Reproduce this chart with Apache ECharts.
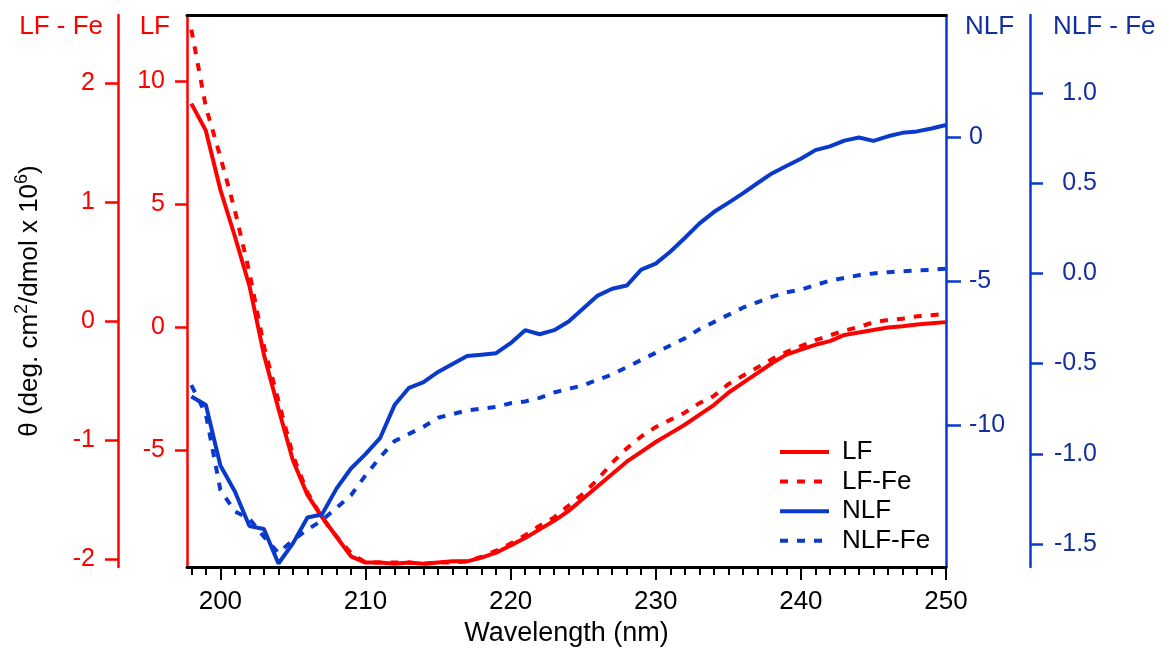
<!DOCTYPE html>
<html>
<head>
<meta charset="utf-8">
<script src="https://cdn.jsdelivr.net/npm/echarts@6/dist/echarts.min.js"></script>
<style>
  html, body { margin: 0; padding: 0; background: #fff; }
  #chart { width: 1162px; height: 650px; }
</style>
</head>
<body>
<div id="chart"></div>
<script>
// wavelength (nm), one point per nm
const wavelength = [198, 199, 200, 201, 202, 203, 204, 205, 206, 207, 208, 209,
  210, 211, 212, 213, 214, 215, 216, 217, 218, 219,
  220, 221, 222, 223, 224, 225, 226, 227, 228, 229,
  230, 231, 232, 233, 234, 235, 236, 237, 238, 239,
  240, 241, 242, 243, 244, 245, 246, 247, 248, 249, 250];

// LF (left inner axis)
const lf = [9.1, 8.0, 5.6, 3.7, 1.7, -1.1, -3.3, -5.4, -6.8, -7.7, -8.5, -9.3,
  -9.55, -9.55, -9.6, -9.55, -9.6, -9.55, -9.5, -9.5, -9.35, -9.15,
  -8.85, -8.55, -8.2, -7.85, -7.45, -6.95, -6.45, -5.95, -5.45, -5.05,
  -4.65, -4.3, -3.95, -3.55, -3.15, -2.65, -2.25, -1.85, -1.45, -1.1,
  -0.9, -0.7, -0.55, -0.3, -0.2, -0.1, 0.0, 0.05, 0.12, 0.17, 0.22];

// LF-Fe (left outer axis)
const lfFe = [2.45, 1.80, 1.38, 0.93, 0.41, -0.21, -0.67, -1.13, -1.44, -1.65, -1.81, -1.95,
  -2.03, -2.03, -2.03, -2.03, -2.04, -2.03, -2.03, -2.02, -1.98, -1.93,
  -1.87, -1.80, -1.72, -1.65, -1.55, -1.45, -1.33, -1.19, -1.07, -0.97,
  -0.89, -0.83, -0.77, -0.69, -0.63, -0.53, -0.46, -0.39, -0.32, -0.26,
  -0.21, -0.16, -0.12, -0.08, -0.05, -0.01, 0.01, 0.02, 0.04, 0.05, 0.06];

// NLF (right inner axis)
const nlf = [-9.0, -9.3, -11.4, -12.3, -13.5, -13.6, -14.8, -14.1, -13.2, -13.1, -12.2, -11.5,
  -11.0, -10.45, -9.3, -8.7, -8.5, -8.15, -7.87, -7.6, -7.55, -7.5,
  -7.15, -6.7, -6.84, -6.7, -6.4, -5.95, -5.5, -5.26, -5.15, -4.6,
  -4.39, -3.98, -3.5, -3.0, -2.6, -2.28, -1.95, -1.6, -1.26, -1.0,
  -0.75, -0.45, -0.32, -0.12, -0.01, -0.13, 0.03, 0.15, 0.2, 0.3, 0.42];

// NLF-Fe (right outer axis)
const nlfFe = [-0.62, -0.78, -1.20, -1.32, -1.36, -1.46, -1.55, -1.48, -1.42, -1.37, -1.30, -1.23,
  -1.12, -1.02, -0.93, -0.89, -0.85, -0.80, -0.78, -0.76, -0.75, -0.74,
  -0.72, -0.71, -0.69, -0.66, -0.64, -0.62, -0.59, -0.56, -0.52, -0.48,
  -0.44, -0.40, -0.36, -0.31, -0.27, -0.23, -0.19, -0.16, -0.13, -0.105,
  -0.09, -0.065, -0.04, -0.025, -0.01, 0.0, 0.007, 0.012, 0.016, 0.02, 0.026];

// tick labels
const xMajorTicks = [200, 210, 220, 230, 240, 250];
const lfTicks = [-5, 0, 5, 10];
const lfFeTicks = [-2, -1, 0, 1, 2];
const nlfTicks = [-10, -5, 0];
const nlfFeTicks = [-1.5, -1.0, -0.5, 0, 0.5, 1.0];

const RED = "#ff0000";
const BLUE = "#0a3acc";
const BLUE_TEXT = "#12309c";
const FONT = "'Liberation Sans', Arial, sans-serif";

const chart = echarts.init(document.getElementById("chart"), null, { renderer: "canvas" });

const pairs = (vals) => wavelength.map((w, i) => [w, vals[i]]);

// one y axis with its own colour, ticks and name at the top
const makeYAxis = (o) => ({
  type: "value",
  position: o.position,
  offset: o.offset,
  min: o.min,
  max: o.max,
  name: o.name,
  nameLocation: "end",
  nameGap: -12,
  nameTextStyle: {
    color: o.textColor,
    fontSize: 26,
    fontFamily: FONT,
    align: o.position === "left" ? "right" : "left",
    verticalAlign: "middle",
    padding: o.position === "left" ? [0, o.namePad, 0, 0] : [0, 0, 0, o.namePad],
  },
  splitLine: { show: false },
  axisLine: { show: true, onZero: false, lineStyle: { color: o.color, width: 2.5 } },
  axisTick: {
    show: true,
    customValues: o.ticks,
    length: o.tickLen,
    lineStyle: { color: o.color, width: 2.5 },
  },
  axisLabel: {
    customValues: o.ticks,
    color: o.textColor,
    fontSize: 25,
    fontFamily: FONT,
    margin: o.margin,
    align: o.align,
    formatter: o.formatter,
  },
});

const option = {
  animation: false,
  backgroundColor: "#fff",
  grid: {
    left: 187,
    right: 216,
    top: 15,
    bottom: 83,
    containLabel: false,
    outerBoundsMode: "none",
  },
  legend: {
    orient: "vertical",
    left: 778,
    top: 439,
    padding: 0,
    itemWidth: 49,
    itemHeight: 14,
    itemGap: 3.6,
    itemStyle: { opacity: 0 },
    lineStyle: { width: 4 },
    textStyle: { fontSize: 26, lineHeight: 24, color: "#000", fontFamily: FONT, padding: [0, 0, 0, 8] },
    data: ["LF", "LF-Fe", "NLF", "NLF-Fe"],
  },
  xAxis: [
    {
      type: "value",
      min: 197.7,
      max: 250,
      name: "Wavelength (nm)",
      nameLocation: "middle",
      nameGap: 67,
      nameTextStyle: { color: "#000", fontSize: 27, fontFamily: FONT, verticalAlign: "middle" },
      splitLine: { show: false },
      axisLine: { onZero: false, lineStyle: { color: "#000", width: 3 } },
      axisTick: { customValues: xMajorTicks, length: 13, lineStyle: { color: "#000", width: 2 } },
      axisLabel: { customValues: xMajorTicks, color: "#000", fontSize: 26, fontFamily: FONT, margin: 22 },
    },
    {
      // minor ticks every nm
      type: "value",
      min: 197.7,
      max: 250,
      position: "bottom",
      splitLine: { show: false },
      axisLine: { show: false, onZero: false },
      axisTick: { customValues: wavelength, length: 8, lineStyle: { color: "#000", width: 2 } },
      axisLabel: { show: false },
    },
    {
      // frame line on top
      type: "value",
      min: 197.7,
      max: 250,
      position: "top",
      splitLine: { show: false },
      axisLine: { onZero: false, lineStyle: { color: "#000", width: 3 } },
      axisTick: { show: false },
      axisLabel: { show: false },
    },
  ],
  yAxis: [
    makeYAxis({
      name: "LF", position: "left", offset: 0, min: -9.73, max: 12.7,
      ticks: lfTicks, tickLen: 12, margin: 22, color: RED, textColor: RED, namePad: 17,
    }),
    makeYAxis({
      name: "LF - Fe", position: "left", offset: 69, min: -2.067, max: 2.573,
      ticks: lfFeTicks, tickLen: 13, margin: 23, color: RED, textColor: RED, namePad: 15,
    }),
    makeYAxis({
      name: "NLF", position: "right", offset: 0, min: -14.92, max: 4.24,
      ticks: nlfTicks, tickLen: 15, margin: 23, color: BLUE, textColor: BLUE_TEXT, namePad: 19,
    }),
    makeYAxis({
      name: "NLF - Fe", position: "right", offset: 84, min: -1.628, max: 1.433,
      ticks: nlfFeTicks, tickLen: 13, margin: 67, align: "right", color: BLUE, textColor: BLUE_TEXT, namePad: 23,
      formatter: (v) => v.toFixed(1),
    }),
    {
      // common y title
      type: "value",
      position: "left",
      offset: 69,
      min: 0,
      max: 1,
      name: "θ (deg. cm{sup|2}/dmol x 10{sup|6})",
      nameLocation: "middle",
      nameGap: 88,
      nameTextStyle: {
        color: "#000",
        fontSize: 26,
        lineHeight: 34,
        fontFamily: FONT,
        verticalAlign: "middle",
        padding: [0, 20, 0, 0],
        rich: {
          sup: { fontSize: 18, lineHeight: 34, verticalAlign: "top", color: "#000", fontFamily: FONT },
        },
      },
      axisLine: { show: false },
      axisTick: { show: false },
      axisLabel: { show: false },
      splitLine: { show: false },
    },
  ],
  series: [
    {
      name: "LF", type: "line", xAxisIndex: 0, yAxisIndex: 0, data: pairs(lf),
      symbol: "none", showSymbol: false,
      lineStyle: { color: RED, width: 4 }, itemStyle: { color: RED },
    },
    {
      name: "LF-Fe", type: "line", xAxisIndex: 0, yAxisIndex: 1, data: pairs(lfFe),
      symbol: "none", showSymbol: false,
      lineStyle: { color: RED, width: 4, type: [8, 9] }, itemStyle: { color: RED },
    },
    {
      name: "NLF", type: "line", xAxisIndex: 0, yAxisIndex: 2, data: pairs(nlf),
      symbol: "none", showSymbol: false,
      lineStyle: { color: BLUE, width: 4 }, itemStyle: { color: BLUE },
    },
    {
      name: "NLF-Fe", type: "line", xAxisIndex: 0, yAxisIndex: 3, data: pairs(nlfFe),
      symbol: "none", showSymbol: false,
      lineStyle: { color: BLUE, width: 4, type: [8, 9] }, itemStyle: { color: BLUE },
    },
  ],
};

chart.setOption(option);
</script>
</body>
</html>
